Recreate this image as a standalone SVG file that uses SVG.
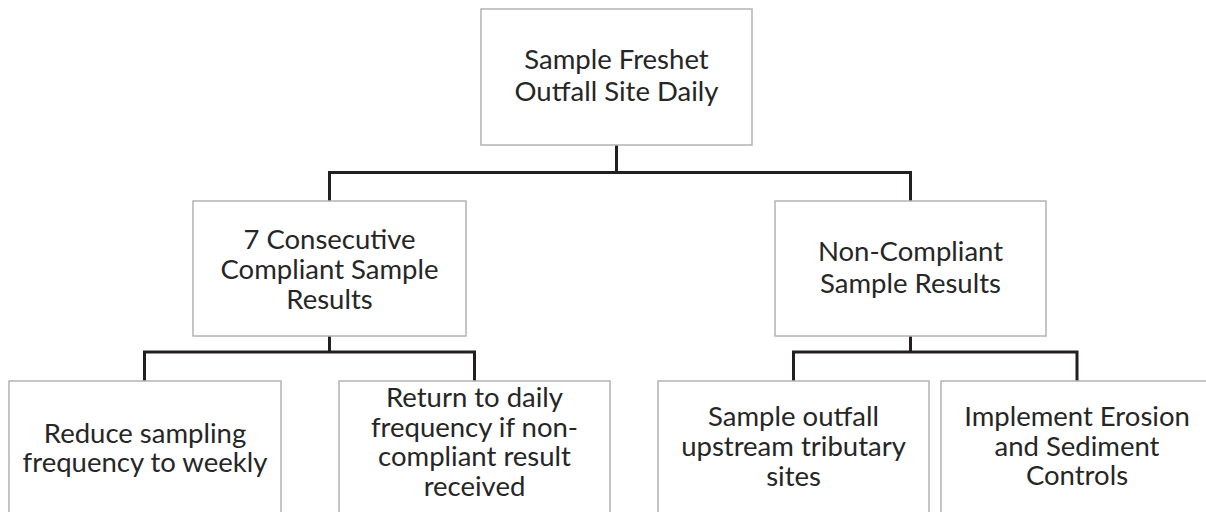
<svg xmlns="http://www.w3.org/2000/svg" width="1206" height="512" viewBox="0 0 1206 512">
<style>
.box{fill:#ffffff;stroke:#b3b3b3;stroke-width:1.5}
.lbl{font-family:Lato,"Liberation Sans",sans-serif;font-size:27.5px;fill:#262626;text-anchor:middle}
.conn{fill:none;stroke:#231f20;stroke-width:3;stroke-linejoin:miter}
</style>
<rect width="1206" height="512" fill="#ffffff"/>
<g id="connectors">
<path class="conn" d="M616.5 145 V172.5 M329.5 201 V172.5 H910.5 V201"/>
<path class="conn" d="M329.5 336 V352 M144.5 381 V352 H474.5 V381"/>
<path class="conn" d="M910.5 336 V352 M793.5 381 V352 H1077 V381"/>
</g>
<g id="n1">
<rect class="box" x="481" y="9" width="271" height="136"/>
<text class="lbl" x="616.5" y="69">Sample Freshet</text>
<text class="lbl" x="616.5" y="100.5">Outfall Site Daily</text>
</g>
<g id="n2">
<rect class="box" x="193" y="201" width="273" height="135"/>
<text class="lbl" x="329.5" y="249">7 Consecutive</text>
<text class="lbl" x="329.5" y="279">Compliant Sample</text>
<text class="lbl" x="329.5" y="309">Results</text>
</g>
<g id="n3">
<rect class="box" x="775" y="201" width="271" height="135"/>
<text class="lbl" x="910.5" y="261">Non-Compliant</text>
<text class="lbl" x="910.5" y="293">Sample Results</text>
</g>
<g id="n4">
<rect class="box" x="9" y="381" width="272" height="150"/>
<text class="lbl" x="145" y="443">Reduce sampling</text>
<text class="lbl" x="145" y="472">frequency to weekly</text>
</g>
<g id="n5">
<rect class="box" x="339" y="381" width="271" height="150"/>
<text class="lbl" x="474.5" y="407">Return to daily</text>
<text class="lbl" x="474.5" y="436.5">frequency if non-</text>
<text class="lbl" x="474.5" y="466">compliant result</text>
<text class="lbl" x="474.5" y="495.5">received</text>
</g>
<g id="n6">
<rect class="box" x="658" y="381" width="271" height="150"/>
<text class="lbl" x="793.5" y="426">Sample outfall</text>
<text class="lbl" x="793.5" y="456">upstream tributary</text>
<text class="lbl" x="793.5" y="486">sites</text>
</g>
<g id="n7">
<rect class="box" x="941" y="381" width="280" height="150"/>
<text class="lbl" x="1077" y="426">Implement Erosion</text>
<text class="lbl" x="1077" y="455.5">and Sediment</text>
<text class="lbl" x="1077" y="485">Controls</text>
</g>
</svg>
